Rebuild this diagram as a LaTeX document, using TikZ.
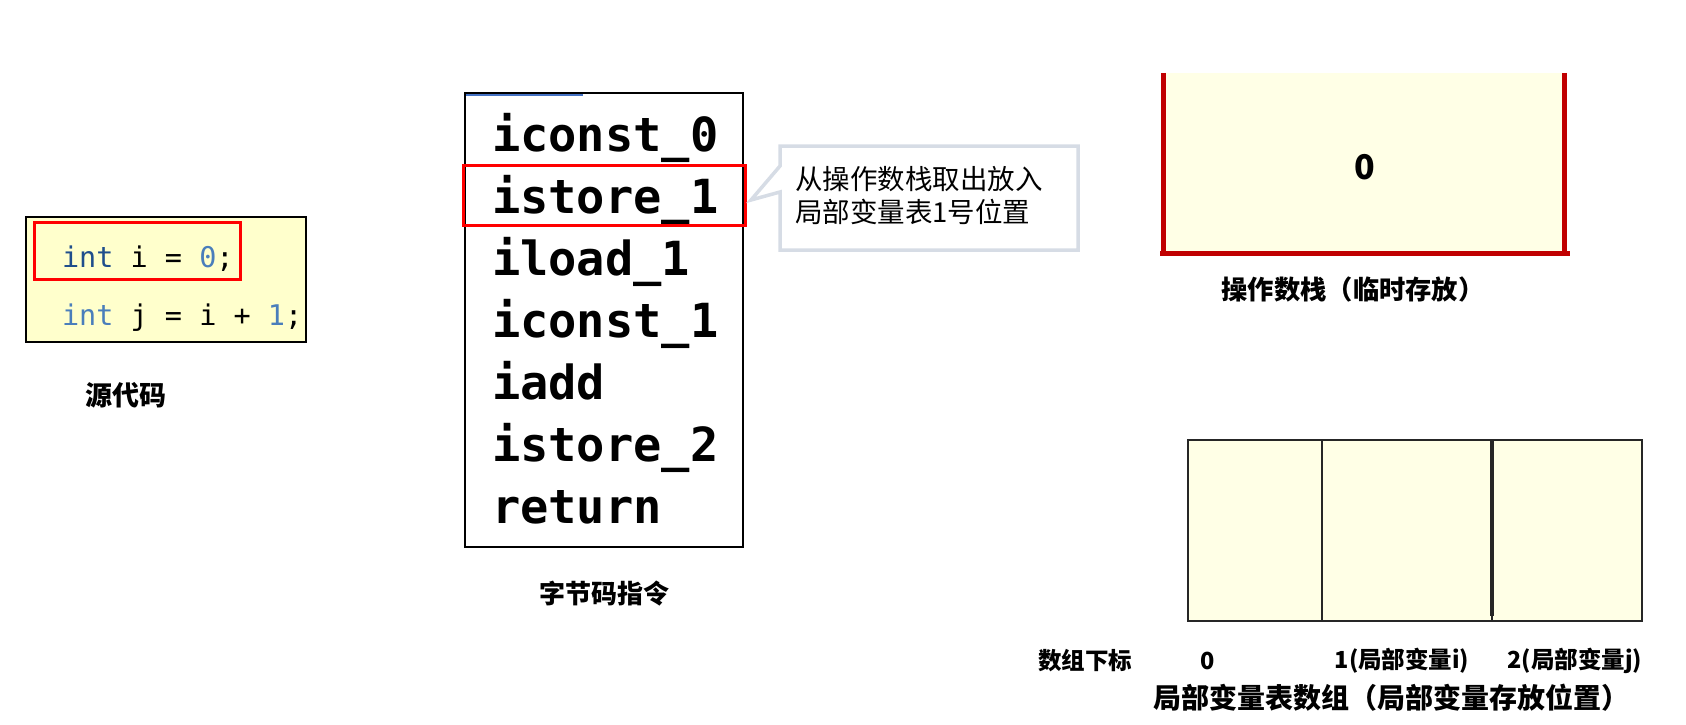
\documentclass[tikz,border=0pt]{standalone}
\usepackage{fontspec}
\setmainfont{Noto Sans CJK SC}
\setmonofont{DejaVu Sans Mono}
\definecolor{codeyellow}{HTML}{FFFFCC}
\definecolor{slotyellow}{HTML}{FFFFE6}
\definecolor{kwdark}{HTML}{1F4E8C}
\definecolor{kwlight}{HTML}{4A7EBB}
\definecolor{stackred}{HTML}{C00000}
\definecolor{calloutgray}{HTML}{D6DCE5}
\definecolor{selblue}{HTML}{4472C4}
\definecolor{cellline}{HTML}{262626}

\begin{document}
\begin{tikzpicture}[x=1pt, y=-1pt,
    every node/.style={inner sep=0pt, outer sep=0pt},
    codeline/.style={anchor=base west, font=\ttfamily\fontsize{28.5}{34}\selectfont},
    instr/.style={anchor=base west, font=\ttfamily\bfseries\fontsize{47}{56}\selectfont},
    caption/.style={font=\bfseries\fontsize{27}{32}\selectfont},
    smallcap/.style={font=\bfseries\fontsize{23.5}{28}\selectfont},
    hilite/.style={draw=red, line width=3pt},
    slot/.style={draw=cellline, line width=2.5pt, fill=slotyellow, minimum height=181pt}]
  \useasboundingbox (0,0) rectangle (1686,725);

  % source code
  \node[draw=black, line width=2pt, fill=codeyellow, minimum width=280pt, minimum height=125pt] (src) at (166,279.5) {};
  \node[hilite, minimum width=206pt, minimum height=57pt] (srcsel) at (137,250.5) {};
  \node[codeline] (line1) at (62,267) {\textcolor{kwdark}{int} i = \textcolor{kwlight}{0};};
  \node[codeline] (line2) at (62,325) {\textcolor{kwlight}{int} j = i + \textcolor{kwlight}{1};};
  \node[caption] (srclabel) at (126,395) {源代码};

  % bytecode
  \node[draw=black, line width=2pt, fill=white, minimum width=278pt, minimum height=454pt] (code) at (604,320) {};
  \draw[selblue, line width=2pt] (code.north west) ++(1,2) -- ++(117,0);
  \foreach \ins [count=\k from 0] in {iconst\_0, istore\_1, iload\_1, iconst\_1, iadd, istore\_2, return}
    \node[instr] (ins\k) at (492,151+62*\k) {\ins};
  \node[hilite, minimum width=282pt, minimum height=60pt] (codesel) at (604,195) {};
  \node[caption, font=\bfseries\fontsize{26}{31}\selectfont] (codelabel) at (604,594) {字节码指令};

  % callout
  \draw[calloutgray, line width=3.5pt, fill=white, line join=miter]
    (780,146) -- (1078,146) -- (1078,250) -- (780,250) -- (780,192) -- (751,200) -- (780,166) -- cycle;
  \node[anchor=west, align=left, font=\fontsize{27.5}{33}\selectfont] (note) at (795,196) {从操作数栈取出放入\\局部变量表1号位置};

  % operand stack
  \node[fill=slotyellow, minimum width=401pt, minimum height=180pt] (stack) at (1363.5,163) {};
  \draw[stackred, line width=5pt] (stack.north west) -- (stack.south west);
  \draw[stackred, line width=5pt] (stack.north east) -- (stack.south east);
  \draw[stackred, line width=5pt] ([xshift=-3pt]stack.south west) -- ([xshift=6pt]stack.south east);
  \node[font=\bfseries\fontsize{34}{40}\selectfont] (top) at (1365,167) {0};
  \node[caption, font=\bfseries\fontsize{26.3}{31}\selectfont] (stacklabel) at (1353,290) {操作数栈（临时存放）};

  % local variable table
  \node[slot, minimum width=134pt] (slot0) at (1255,530.5) {};
  \node[slot, minimum width=170pt] (slot1) at (1407,530.5) {};
  \node[slot, minimum width=150pt] (slot2) at (1567,530.5) {};
  \draw[cellline, line width=2.5pt] (slot0.north east) -- ([yshift=4pt]slot0.south east);
  \draw[cellline, line width=3.5pt] (slot1.north east) -- ([yshift=5pt]slot1.south east);
  \node[smallcap] (idxlabel) at (1085,661) {数组下标};
  \node[smallcap] (idx0) at (1208,661) {0};
  \node[smallcap] (idx1) at (1402,661) {1(局部变量i)};
  \node[smallcap] (idx2) at (1575,661) {2(局部变量j)};
  \node[caption, font=\bfseries\fontsize{28}{34}\selectfont] (tablelabel) at (1391,698) {局部变量表数组（局部变量存放位置）};
\end{tikzpicture}
\end{document}
